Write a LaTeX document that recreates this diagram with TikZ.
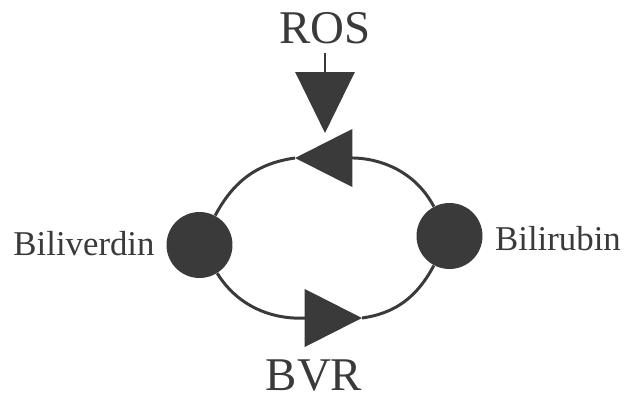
\documentclass[tikz,border=0pt]{standalone}
\usepackage{fontspec}
\setmainfont{Liberation Serif}
\usetikzlibrary{arrows.meta}
\definecolor{ink}{HTML}{3A3A3A}
\tikzset{
  mol/.style ={circle, fill=ink, draw=none, minimum size=1.32cm, inner sep=0pt},
  big/.style ={text=ink, inner sep=5pt, font=\fontsize{26.7}{30}\selectfont},
  small/.style ={text=ink, inner sep=3pt, font=\fontsize{19.8}{23}\selectfont},
  e/.style   ={draw=ink, line width=1.7pt},
  tri/.style ={-{Triangle[length=1.15cm, width=1.15cm, fill=ink]}},
}
\begin{document}
\begin{tikzpicture}[x=0.02cm, y=0.02cm]
\useasboundingbox (0,0) rectangle (628,400);
\node[mol] (bv) at (199.5,155) {};
\node[mol] (br) at (449.5,164) {};
\node[small, anchor=base] (bvl) at (84,145) {Biliverdin};
\node[small, anchor=base] (brl) at (558,150) {Bilirubin};
\node[big, anchor=base] (ros) at (325,357) {ROS};
\node[big, anchor=base, inner sep=1pt] (bvr) at (314,10) {BVR};
\coordinate (top) at (295,242);
\coordinate (bot) at (362,82);
\coordinate (rostip) at (325,267);
% cycle
\draw[e, tri] (br) to[out=118, in=0] (top);
\draw[e] (top) to[out=188, in=62] (bv);
\draw[e, tri] (bv) to[out=-58, in=180] (bot);
\draw[e] (bot) to[out=8, in=-118] (br);
% oxidant
\draw[e, -{Triangle[length=1.22cm, width=1.18cm, fill=ink]}] (ros) -- (rostip);
\end{tikzpicture}
\end{document}
